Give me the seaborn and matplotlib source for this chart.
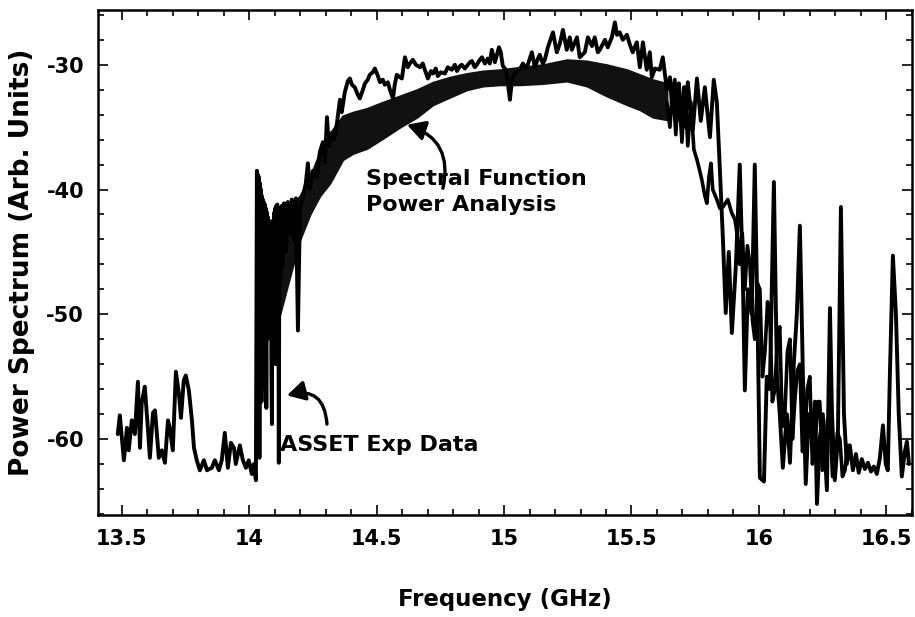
import numpy as np
import pandas as pd
import matplotlib
matplotlib.use("Agg")
import matplotlib.pyplot as plt
from matplotlib.ticker import MultipleLocator
import seaborn as sns

# ASSET experimental spectrum
exp_freq = [
    13.484, 13.492, 13.508, 13.520, 13.527, 13.539, 13.551, 13.563, 13.571, 13.578,
    13.590, 13.602, 13.610, 13.622, 13.630, 13.645, 13.657, 13.669, 13.681, 13.688,
    13.700, 13.712, 13.724, 13.732, 13.743, 13.751, 13.763, 13.775, 13.783, 13.794,
    13.806, 13.822, 13.834, 13.853, 13.865, 13.881, 13.892, 13.904, 13.916, 13.928,
    13.940, 13.947, 13.963, 13.975, 13.987, 13.998, 14.010, 14.018, 14.026,
    14.030, 14.032, 14.034, 14.036, 14.038, 14.040, 14.042, 14.044, 14.046, 14.048,
    14.049, 14.051, 14.053, 14.055, 14.057, 14.059, 14.061, 14.063, 14.065, 14.067,
    14.069, 14.071, 14.073, 14.075, 14.077, 14.079, 14.081, 14.083, 14.085, 14.087,
    14.089, 14.091, 14.093, 14.095, 14.097, 14.099, 14.100, 14.102, 14.104, 14.106,
    14.108, 14.110, 14.112, 14.114, 14.116, 14.118, 14.120, 14.124, 14.128, 14.132,
    14.136, 14.144, 14.151, 14.159, 14.167, 14.175, 14.183, 14.191, 14.199,
    14.210, 14.222, 14.230, 14.238, 14.250, 14.265, 14.277, 14.289, 14.297, 14.305,
    14.312, 14.320, 14.332, 14.344, 14.356, 14.363, 14.375, 14.387, 14.395, 14.403,
    14.414, 14.426, 14.434, 14.446, 14.454, 14.465, 14.473, 14.485, 14.493, 14.505,
    14.513, 14.524, 14.532, 14.544, 14.552, 14.564, 14.571, 14.579, 14.591, 14.599,
    14.611, 14.622, 14.630, 14.642, 14.654, 14.670, 14.681, 14.689, 14.701, 14.713,
    14.721, 14.732, 14.740, 14.752, 14.768, 14.779, 14.795, 14.807, 14.815, 14.827,
    14.834, 14.846, 14.854, 14.866, 14.874, 14.885, 14.893, 14.905, 14.913, 14.925,
    14.936, 14.944, 14.952, 14.964, 14.972, 14.980, 14.987, 14.995, 15.007, 15.015,
    15.023, 15.031, 15.042, 15.054, 15.066, 15.074, 15.086, 15.093, 15.101, 15.109,
    15.121, 15.133, 15.140, 15.152, 15.160, 15.172, 15.192, 15.207, 15.219, 15.231,
    15.246, 15.258, 15.266, 15.286, 15.297, 15.317, 15.329, 15.345, 15.356, 15.368,
    15.376, 15.396, 15.407, 15.423, 15.435, 15.443, 15.454, 15.466, 15.482, 15.494,
    15.505, 15.521, 15.533, 15.545, 15.560, 15.572, 15.580, 15.592, 15.611, 15.623,
    15.639, 15.651, 15.659, 15.670, 15.678, 15.686, 15.698, 15.706, 15.713, 15.721,
    15.729, 15.741, 15.757, 15.772, 15.788, 15.808, 15.823, 15.835, 15.847, 15.859,
    15.870, 15.882, 15.894, 15.910, 15.925, 15.937, 15.945, 15.957, 15.972, 15.984,
    15.996, 16.004, 16.020, 16.031, 16.043, 16.059, 16.071, 16.082, 16.094, 16.110,
    16.122, 16.137, 16.149, 16.161, 16.173, 16.184, 16.196, 16.208, 16.220, 16.228,
    16.239, 16.251, 16.267, 16.279, 16.287, 16.298, 16.310, 16.322, 16.334, 16.345,
    16.357, 16.369, 16.381, 16.392, 16.404, 16.416, 16.428, 16.440, 16.451, 16.463,
    16.475, 16.487, 16.498, 16.506, 16.514, 16.526, 16.538, 16.549, 16.561, 16.573,
    16.581, 16.589,
]
exp_power = [
    -59.6, -58.1, -61.7, -59.1, -60.9, -58.5, -59.6, -55.4, -60.7, -57.1,
    -55.8, -59.1, -61.5, -57.9, -57.7, -61.5, -60.9, -61.9, -58.5, -59.1,
    -60.9, -54.6, -56.4, -58.3, -55.3, -54.9, -56.1, -58.5, -60.7, -61.7,
    -62.5, -61.7, -62.5, -62.3, -61.7, -62.5, -61.7, -59.5, -62.3, -60.3,
    -60.7, -62.0, -60.5, -61.7, -62.3, -61.7, -62.8, -62.0, -63.3,
    -38.5, -58.0, -38.8, -50.0, -39.0, -61.5, -39.5, -54.0, -40.0, -57.0,
    -40.5, -52.0, -40.8, -48.0, -41.0, -56.0, -41.2, -50.0, -41.5, -57.5,
    -41.8, -52.0, -42.2, -47.0, -42.5, -51.0, -42.7, -48.0, -42.7, -55.0,
    -58.8, -43.0, -49.0, -42.5, -50.5, -41.8, -46.5, -41.5, -54.0, -41.3,
    -49.0, -41.2, -48.0, -44.0, -61.9, -45.0, -41.5, -47.0, -41.3, -46.0,
    -41.1, -45.0, -41.0, -43.5, -40.8, -44.0, -40.7, -51.3, -41.5,
    -40.6, -39.5, -37.9, -40.0, -38.5, -39.0, -37.0, -36.2, -37.8, -34.2,
    -36.5, -35.5, -36.0, -34.7, -32.8, -33.8, -32.2, -31.3, -31.1, -31.6,
    -31.8, -32.4, -32.7, -32.0, -31.5, -31.2, -30.8, -30.6, -30.3, -30.9,
    -31.4, -31.2, -31.6, -31.4, -32.0, -32.7, -31.6, -30.8, -31.0, -31.1,
    -29.4, -30.2, -29.9, -29.6, -30.0, -30.2, -29.9, -30.4, -31.1, -30.5,
    -30.7, -30.3, -30.9, -30.6, -30.7, -30.2, -30.4, -30.0, -30.5, -30.1,
    -30.0, -30.3, -30.1, -29.8, -29.7, -30.2, -30.0, -29.6, -29.4, -29.9,
    -29.5, -29.9, -28.8, -29.8, -29.2, -28.6, -29.0, -30.1, -30.4, -31.5,
    -32.8, -31.2, -30.7, -30.5, -30.2, -29.9, -30.3, -30.0, -29.5, -29.0,
    -30.2, -29.5, -29.2, -29.9, -29.6, -28.6, -27.4, -29.0, -28.3, -27.2,
    -28.8, -27.8, -28.8, -27.8, -29.4, -29.0, -27.8, -28.5, -27.8, -29.0,
    -28.8, -28.0, -28.6, -27.8, -26.6, -27.6, -27.4, -28.0, -27.6, -28.4,
    -29.0, -28.2, -30.2, -28.2, -30.4, -29.0, -31.0, -30.3, -30.4, -29.4,
    -32.0, -31.0, -33.2, -31.2, -34.5, -31.5, -35.5, -31.8, -35.0, -31.4,
    -33.0, -35.2, -31.1, -34.5, -31.8, -35.8, -31.2, -33.0, -38.4, -44.0,
    -49.9, -45.0, -51.5, -46.0, -38.0, -47.0, -56.1, -48.0, -50.0, -38.0,
    -52.0, -63.1, -63.4, -55.0, -56.0, -39.4, -55.0, -58.0, -62.3, -58.0,
    -61.9, -54.0, -50.0, -42.9, -55.0, -63.6, -58.0, -60.0, -57.0, -65.2,
    -60.0, -58.0, -64.1, -49.5, -58.0, -63.3, -60.0, -41.4, -58.0, -62.0,
    -60.5, -62.5, -61.2, -62.7, -61.6, -62.4, -61.9, -62.6, -62.2, -62.8,
    -61.5, -58.9, -62.0, -62.5, -55.0, -45.3, -50.0, -58.0, -63.0, -61.0,
    -60.2, -62.0,
]

# Spectral-function power analysis: dense fast-oscillating band (envelopes)
spec_freq = [
    14.030, 14.049, 14.081, 14.120, 14.159, 14.199, 14.238, 14.277, 14.316, 14.367,
    14.407, 14.462, 14.524, 14.591, 14.658, 14.721, 14.787, 14.854, 14.917, 14.984,
    15.062, 15.152, 15.246, 15.325, 15.403, 15.482, 15.533, 15.584, 15.639,
]
spec_low = [
    -56.0, -52.0, -51.0, -50.0, -47.0, -44.0, -42.0, -40.5, -39.5, -37.6,
    -37.1, -36.7, -35.9, -35.0, -34.2, -33.2, -32.6, -32.0, -31.7, -31.6,
    -31.6, -31.5, -31.3, -31.7, -32.5, -33.2, -33.6, -34.2, -34.4,
]
spec_high = [
    -40.0, -42.0, -42.5, -42.0, -41.5, -40.5, -39.0, -37.0, -35.5, -34.1,
    -33.8, -33.5, -33.0, -32.5, -32.0, -31.4, -31.0, -30.7, -30.5, -30.4,
    -30.2, -30.0, -29.6, -29.7, -30.0, -30.4, -30.8, -31.2, -31.5,
]
# spectral function beyond the band edge (resolved oscillations)
tail_freq = [
    15.639, 15.651, 15.662, 15.674, 15.686, 15.698, 15.710, 15.721, 15.733, 15.745,
    15.757, 15.768, 15.776, 15.788, 15.796, 15.804, 15.812, 15.819, 15.835, 15.847,
    15.859, 15.878, 15.894, 15.906, 15.918, 15.925, 15.935, 15.945, 15.955, 15.965,
    15.975, 15.984, 15.994, 16.004, 16.014, 16.024, 16.034, 16.043, 16.053, 16.063,
    16.073, 16.082, 16.092, 16.102, 16.112, 16.122, 16.132, 16.141, 16.151, 16.161,
    16.171, 16.180, 16.190, 16.200, 16.210, 16.220, 16.230, 16.239, 16.249, 16.259,
    16.269, 16.279, 16.289, 16.298, 16.308, 16.318, 16.328, 16.338, 16.348, 16.357,
]
tail_power = [
    -33.0, -35.0, -31.6, -35.6, -31.5, -36.2, -31.8, -36.5, -33.0, -36.8,
    -37.6, -38.5, -39.2, -40.5, -41.1, -39.0, -37.9, -40.0, -40.8, -41.5,
    -41.4, -40.8, -41.9, -42.4, -44.0, -46.0, -43.5, -48.0, -44.5, -46.0,
    -50.5, -52.0, -47.5, -48.0, -55.0, -53.0, -49.0, -50.0, -57.0, -56.0,
    -52.0, -51.0, -59.0, -58.0, -53.0, -52.0, -60.0, -57.0, -54.5, -54.0,
    -61.0, -60.0, -56.0, -55.0, -62.0, -61.0, -57.0, -57.0, -62.5, -62.0,
    -58.5, -58.0, -63.0, -63.0, -59.5, -60.0, -63.0, -62.5, -60.5, -61.5,
]

x_ticks = [13.5, 14, 14.5, 15, 15.5, 16, 16.5]
x_tick_labels = ["13.5", "14", "14.5", "15", "15.5", "16", "16.5"]
y_ticks = [-60, -50, -40, -30]

exp_df = pd.DataFrame({"Frequency": exp_freq, "Power": exp_power})
tail_df = pd.DataFrame({"Frequency": tail_freq, "Power": tail_power})

# ---------- style ----------
sns.set_theme(style="ticks")
plt.rcParams["font.family"] = ["DejaVu Sans"]
plt.rcParams["font.weight"] = "bold"
plt.rcParams["axes.unicode_minus"] = False
for key in ["text.color", "axes.labelcolor", "xtick.color", "ytick.color",
            "axes.edgecolor"]:
    plt.rcParams[key] = "black"

fig = plt.figure(figsize=(9.15, 6.17), dpi=100)
ax = fig.add_axes([0.107, 0.165, 0.890, 0.819])

ax.fill_between(spec_freq, spec_low, spec_high, color="#111111", linewidth=1.5,
                edgecolor="#111111")
sns.lineplot(data=tail_df, x="Frequency", y="Power", ax=ax, sort=False,
             estimator=None, color="black", linewidth=2.6)
sns.lineplot(data=exp_df, x="Frequency", y="Power", ax=ax, sort=False,
             estimator=None, color="black", linewidth=2.8)

ax.set_xlim(13.406, 16.602)
ax.set_ylim(-66.1, -25.6)
ax.set_xticks(x_ticks)
ax.set_xticklabels(x_tick_labels)
ax.set_yticks(y_ticks)
ax.xaxis.set_minor_locator(MultipleLocator(0.1))
ax.yaxis.set_minor_locator(MultipleLocator(2))
ax.tick_params(which="both", direction="in", top=True, right=True,
               labelsize=15, width=1.2, color="black", labelcolor="black")
ax.tick_params(which="major", length=7, pad=10)
ax.tick_params(which="minor", length=4)
for lab in ax.get_xticklabels() + ax.get_yticklabels():
    lab.set_fontweight("bold")
for sp in ax.spines.values():
    sp.set_linewidth(1.8)
    sp.set_color("black")

ax.set_xlabel("Frequency (GHz)", fontsize=16.5, fontweight="bold", labelpad=28)
ax.set_ylabel("Power Spectrum (Arb. Units)", fontsize=19, fontweight="bold",
              labelpad=8)

# annotations
ax.text(14.458, -40.2, "Spectral Function\nPower Analysis", fontsize=16,
        fontweight="bold", ha="left", va="center", linespacing=1.35)
ax.annotate("", xy=(14.619, -34.8), xytext=(14.760, -39.9),
            arrowprops=dict(arrowstyle="-|>,head_length=0.9,head_width=0.5",
                            connectionstyle="arc3,rad=0.45", color="black",
                            lw=2.4, shrinkA=0, shrinkB=0))
ax.text(14.120, -60.5, "ASSET Exp Data", fontsize=16, fontweight="bold",
        ha="left", va="center")
ax.annotate("", xy=(14.148, -56.5), xytext=(14.305, -58.8),
            arrowprops=dict(arrowstyle="-|>,head_length=0.9,head_width=0.5",
                            connectionstyle="arc3,rad=0.6", color="black",
                            lw=2.4, shrinkA=0, shrinkB=0))

fig.savefig("out.png", dpi=100)
